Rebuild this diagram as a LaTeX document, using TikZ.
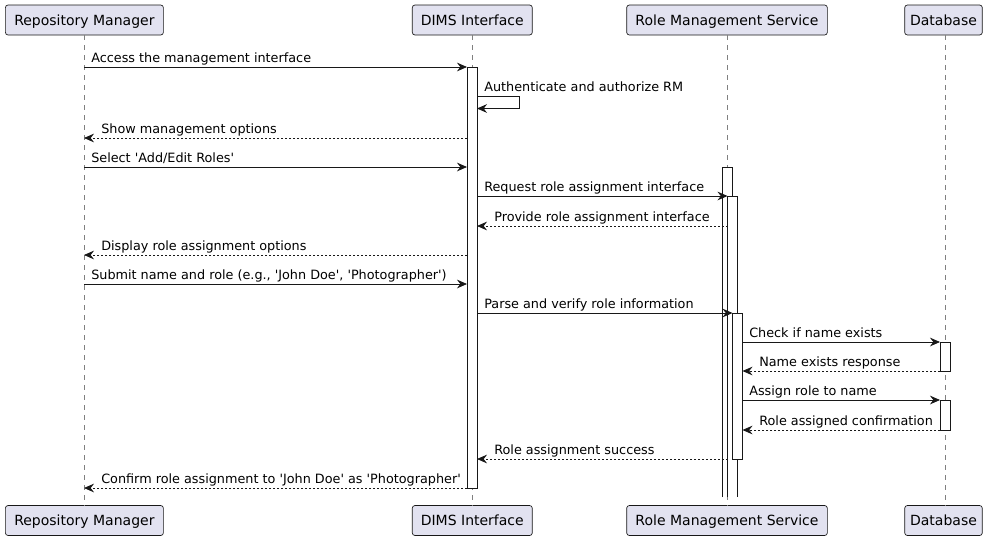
\documentclass[tikz,border=0pt]{standalone}
\usepackage{fontspec}
\setmainfont{DejaVu Sans}[Ligatures=TeXOff]
\usetikzlibrary{arrows.meta,calc}
\definecolor{partfill}{RGB}{226,226,240}
\definecolor{ink}{RGB}{24,24,24}
\begin{document}
\begin{tikzpicture}[x=0.75pt,y=-0.75pt,
  part/.style={draw=ink,fill=partfill,rounded corners=2pt,minimum height=22.5pt,inner sep=0pt,text depth=0pt,font=\fontsize{10.5}{12}\selectfont,line width=0.5pt},
  life/.style={draw=gray,dash pattern=on 3.75pt off 3.75pt,line width=0.5pt},
  act/.style={draw=ink,fill=white,line width=0.6pt},
  msg/.style={draw=ink,line width=0.6pt,-{Stealth[length=7.5pt,width=6.5pt,inset=2.5pt]}},
  ret/.style={msg,dash pattern=on 1.5pt off 1.5pt},
  lbl/.style={font=\fontsize{9.6}{11}\selectfont,inner sep=0pt,anchor=base west}]
\useasboundingbox (0,0) rectangle (991,540);
% participants
\node[part,minimum width=118.5pt] (rmT) at (84.4,20) {Repository Manager};
\node[part,minimum width=90pt] (diT) at (472.3,20) {DIMS Interface};
\node[part,minimum width=150.5pt] (rsT) at (727,20) {Role Management Service};
\node[part,minimum width=58.2pt] (dbT) at (943.5,20) {Database};
\node[part,minimum width=118.5pt] (rmB) at (84.4,520.5) {Repository Manager};
\node[part,minimum width=90pt] (diB) at (472.3,520.5) {DIMS Interface};
\node[part,minimum width=150.5pt] (rsB) at (727,520.5) {Role Management Service};
\node[part,minimum width=58.2pt] (dbB) at (943.5,520.5) {Database};
% lifelines
\draw[life] (84,35) -- (84,505.5);
\draw[life] (472,35) -- (472,505.5);
\draw[life] (727,35) -- (727,505.5);
\draw[life] (945,35) -- (945,505.5);
% activations
\draw[act] (467,67) rectangle (477,488);
\fill[white] (722.5,167) rectangle (732.5,497);
\draw[ink,line width=0.6pt] (722.5,497) -- (722.5,167) -- (732.5,167) -- (732.5,497);
\fill[white] (727.5,196) rectangle (737.5,497);
\draw[ink,line width=0.6pt] (727.5,497) -- (727.5,196) -- (737.5,196) -- (737.5,497);
\draw[act] (732.5,313) rectangle (742.5,459.5);
\draw[act] (940,342) rectangle (950.5,371);
\draw[act] (940,400) rectangle (950.5,430);
% coordinates
\coordinate (rm) at (84,0);
\coordinate (diL) at (467,0);
\coordinate (diR) at (477,0);
\coordinate (rsA) at (727.5,0);
\coordinate (rsC) at (732.5,0);
\coordinate (rsR) at (742.5,0);
\coordinate (dbL) at (940,0);
\coordinate (selfX) at (519.5,0);
% messages
\draw[msg] (rm |- 0,67) -- (diL |- 0,67);
\node[lbl] (m1) at (91,62.5) {Access the management interface};
\draw[msg] (diR |- 0,96) -- (selfX |- 0,96) -- (selfX |- 0,108.5) -- (diR |- 0,108.5);
\node[lbl] (m2) at (484,91.5) {Authenticate and authorize RM};
\draw[ret] (diL |- 0,138) -- (rm |- 0,138);
\node[lbl] (m3) at (101,133.5) {Show management options};
\draw[msg] (rm |- 0,167) -- (diL |- 0,167);
\node[lbl] (m4) at (91,162.5) {Select 'Add/Edit Roles'};
\draw[msg] (diR |- 0,196) -- (rsA |- 0,196);
\node[lbl] (m5) at (484,191.5) {Request role assignment interface};
\draw[ret] (rsA |- 0,226) -- (diR |- 0,226);
\node[lbl] (m6) at (494,221.5) {Provide role assignment interface};
\draw[ret] (diL |- 0,255) -- (rm |- 0,255);
\node[lbl] (m7) at (101,250.5) {Display role assignment options};
\draw[msg] (rm |- 0,284) -- (diL |- 0,284);
\node[lbl] (m8) at (91,279.5) {Submit name and role (e.g., 'John Doe', 'Photographer')};
\draw[msg] (diR |- 0,313) -- (rsC |- 0,313);
\node[lbl] (m9) at (484,308.5) {Parse and verify role information};
\draw[msg] (rsR |- 0,342) -- (dbL |- 0,342);
\node[lbl] (m10) at (749,337.5) {Check if name exists};
\draw[ret] (dbL |- 0,371) -- (rsR |- 0,371);
\node[lbl] (m11) at (759,366.5) {Name exists response};
\draw[msg] (rsR |- 0,400) -- (dbL |- 0,400);
\node[lbl] (m12) at (749,395.5) {Assign role to name};
\draw[ret] (dbL |- 0,430) -- (rsR |- 0,430);
\node[lbl] (m13) at (759,425.5) {Role assigned confirmation};
\draw[ret] (rsA |- 0,459) -- (diR |- 0,459);
\node[lbl] (m14) at (494,454.5) {Role assignment success};
\draw[ret] (diL |- 0,488) -- (rm |- 0,488);
\node[lbl] (m15) at (101,483.5) {Confirm role assignment to 'John Doe' as 'Photographer'};
\end{tikzpicture}
\end{document}
